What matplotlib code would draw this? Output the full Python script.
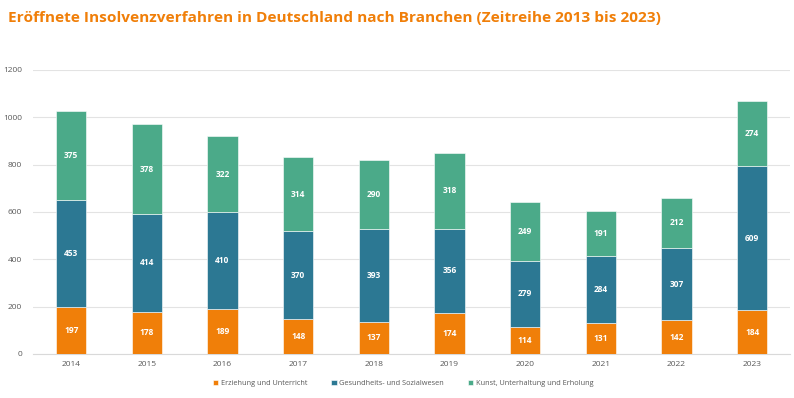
import numpy as np
import matplotlib.pyplot as plt

# Daten
jahre = ['2014', '2015', '2016', '2017', '2018', '2019', '2020', '2021', '2022', '2023']
erziehung = [197, 178, 189, 148, 137, 174, 114, 131, 142, 184]
gesundheit = [453, 414, 410, 370, 393, 356, 279, 284, 307, 609]
kunst = [375, 378, 322, 314, 290, 318, 249, 191, 212, 274]
serien = ['Erziehung und Unterricht', 'Gesundheits- und Sozialwesen', 'Kunst, Unterhaltung und Erholung']
farben = ['#F07F09', '#2C7893', '#4BAA89']

plt.rcParams['font.family'] = ['Open Sans', 'DejaVu Sans']

fig = plt.figure(figsize=(7.94, 3.98), dpi=100)
ax = fig.add_axes([0.042, 0.1106, 0.953, 0.7136])

x = np.arange(len(jahre))
bottom = np.zeros(len(jahre))
for werte, name, farbe in zip([erziehung, gesundheit, kunst], serien, farben):
    werte = np.array(werte)
    ax.bar(x, werte, 0.4, bottom=bottom, color=farbe, label=name, zorder=3,
           edgecolor='white', linewidth=0.4)
    for xi, b, v in zip(x, bottom, werte):
        ax.text(xi, b + v / 2, str(v), ha='center', va='center', color='white',
                fontsize=6, fontweight='bold', zorder=4)
    bottom += werte

ax.set_xlim(-0.5, len(jahre) - 0.5)
ax.set_ylim(0, 1200)
ax.set_yticks(range(0, 1201, 200))
ax.set_xticks(x)
ax.set_xticklabels(jahre)
ax.tick_params(axis='both', length=0, labelsize=6, colors='#595959')
ax.tick_params(axis='x', pad=5)
ax.tick_params(axis='y', pad=8)
ax.grid(axis='y', color='#e3e3e3', linewidth=0.8, zorder=0)
for s in ['top', 'right', 'left']:
    ax.spines[s].set_visible(False)
ax.spines['bottom'].set_color('#d9d9d9')

fig.text(0.01, 0.955, 'Eröffnete Insolvenzverfahren in Deutschland nach Branchen (Zeitreihe 2013 bis 2023)',
         color='#F07F09', fontsize=11.1, fontweight='bold', va='center', ha='left')

leg = fig.legend(loc='center', bbox_to_anchor=(0.508, 0.037), ncol=3, frameon=False,
                 fontsize=5.3, handlelength=0.7, handleheight=0.7, columnspacing=3.2,
                 handletextpad=0.4)
for t in leg.get_texts():
    t.set_color('#595959')

fig.savefig('out.png', dpi=100)
